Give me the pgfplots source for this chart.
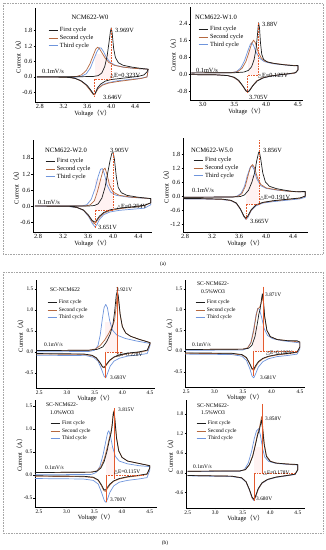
\documentclass[border=0pt]{standalone}
\usepackage{pgfplots}
\pgfplotsset{compat=1.18}
\usepackage{fontspec}
\setmainfont{Liberation Serif}
\newfontfamily\cjk{Noto Sans CJK SC}
\newfontfamily\dvs{DejaVu Sans}
\newcommand{\lp}{{\cjk（}}
\newcommand{\rp}{{\cjk）}}
\newcommand{\dE}{{\dvs\fontsize{5}{5}\selectfont △}E}
\definecolor{cA}{HTML}{1E1E1E}
\definecolor{cB}{HTML}{B5683F}
\definecolor{cC}{HTML}{6F95DC}
\definecolor{mk}{HTML}{E45A2E}
\newcommand{\fa}{\fontsize{6.3}{6.8}\selectfont}
\newcommand{\fta}{\fontsize{6.6}{7}\selectfont}
\newcommand{\fb}{\fontsize{5.4}{6}\selectfont}
\newcommand{\ftb}{\fontsize{5.6}{6.2}\selectfont}
\tikzset{dEline/.style={mk, dash pattern=on 0.8pt off 0.8pt, line width=0.55pt},
         dElineB/.style={mk, line width=0.45pt},
         pinkA/.style={fill=red!25, opacity=0.2, draw=none}}
\pgfplotsset{
  cv/.style={
    scale only axis,
    axis x line*=bottom, axis y line*=left,
    axis line style={-, line width=0.5pt},
    tick align=outside, major tick length=1.5pt,
    tick style={line width=0.4pt, black},
    ticklabel style={inner sep=1pt},
    /pgf/number format/assume math mode=true,
    xticklabel style={/pgf/number format/.cd,fixed,fixed zerofill,precision=1},
    yticklabel style={/pgf/number format/.cd,fixed,fixed zerofill,precision=1},
    xlabel={Voltage\lp V\rp}, ylabel={Current\lp A\rp},
    label style={font=\fa, inner sep=1pt},
    xlabel style={yshift=1pt},
    ylabel style={yshift=-1pt},
    legend cell align=left, reverse legend,
    legend style={draw=none, fill=none, inner sep=0pt, row sep=-2pt, anchor=north west},
    legend image code/.code={\draw[##1, line width=0.8pt] (0pt,0pt) -- (9pt,0pt);},
    every axis plot/.append style={line width=0.7pt, line join=round},
  },
  cva/.style={cv, ticklabel style={font=\fa}, legend style={font=\fa}},
  cvb/.style={cv, ticklabel style={font=\fb}, legend style={font=\fb}},
}
\begin{document}
\begin{tikzpicture}[x=1pt,y=1pt]
\useasboundingbox (0,0) rectangle (326,550);
% panel frames
\draw[gray!70, densely dotted, line width=0.6pt] (3,547) rectangle (323,296);
\draw[gray!70, densely dotted, line width=0.6pt] (3,278) rectangle (323,17);
\node[font=\fb] at (163,286) {(a)};
\node[font=\fb] at (165,7) {(b)};

% ---------- A1 ----------
\begin{axis}[cva, at={(35pt,448pt)}, anchor=south west, width=115pt, height=94pt,
  xmin=2.72, xmax=4.65, ymin=-0.97, ymax=2.67,
  xtick={2.8,3.2,3.6,4.0,4.4}, ytick={-0.6,0,0.6,1.2,1.8},
  legend style={at={(0.113,0.819)}}]
\fill[pinkA] (axis cs:3.72,-0.08) rectangle (axis cs:4.0,0.9);
\addplot[cC] coordinates {(2.75,0.0)(3.4,0.0)(3.5,0.03)(3.58,0.12)(3.65,0.35)(3.71,0.7)(3.76,0.98)(3.8,1.13)(3.83,1.12)(3.87,0.98)(3.92,0.75)(3.98,0.57)(4.06,0.46)(4.2,0.38)(4.4,0.33)(4.62,0.3)
 (4.6,0.0)(4.5,-0.05)(4.3,-0.1)(4.1,-0.15)(3.95,-0.22)(3.85,-0.3)(3.78,-0.44)(3.74,-0.6)(3.72,-0.68)(3.69,-0.64)(3.64,-0.48)(3.57,-0.28)(3.48,-0.13)(3.38,-0.04)(3.25,0.0)(2.75,0.0)};
\addlegendentry{Third cycle}
\addplot[cB] coordinates {(2.75,0.0)(3.3,0.0)(3.42,0.02)(3.5,0.08)(3.58,0.25)(3.64,0.5)(3.7,0.85)(3.74,1.08)(3.77,1.15)(3.8,1.1)(3.84,0.95)(3.9,0.72)(3.96,0.56)(4.05,0.45)(4.2,0.38)(4.4,0.33)(4.62,0.3)
 (4.6,0.0)(4.5,-0.06)(4.3,-0.12)(4.1,-0.18)(3.95,-0.24)(3.85,-0.32)(3.78,-0.45)(3.74,-0.6)(3.72,-0.7)(3.69,-0.66)(3.64,-0.5)(3.57,-0.3)(3.48,-0.14)(3.38,-0.05)(3.25,-0.01)(2.75,0.0)};
\addlegendentry{Second cycle}
\addplot[cA] coordinates {(2.75,0.01)(3.5,0.01)(3.7,0.02)(3.78,0.05)(3.84,0.15)(3.89,0.4)(3.93,0.8)(3.96,1.3)(3.985,1.75)(4.0,1.9)(4.015,1.7)(4.04,1.1)(4.07,0.75)(4.12,0.55)(4.2,0.45)(4.35,0.38)(4.5,0.33)(4.62,0.3)
 (4.6,0.2)(4.55,0.08)(4.45,0.02)(4.3,-0.02)(4.15,-0.06)(4.0,-0.1)(3.9,-0.16)(3.82,-0.28)(3.77,-0.42)(3.74,-0.58)(3.72,-0.68)(3.7,-0.66)(3.66,-0.52)(3.6,-0.34)(3.5,-0.16)(3.4,-0.06)(3.3,-0.02)(3.0,0.0)(2.75,0.0)};
\addlegendentry{First cycle}
\draw[dEline] (axis cs:4.0,1.9) -- (axis cs:4.0,-0.08) -- (axis cs:3.72,-0.08) -- (axis cs:3.72,-0.75);
\end{axis}

% ---------- A2 ----------
\begin{axis}[cva, at={(190pt,450pt)}, anchor=south west, width=113pt, height=93pt,
  xmin=2.8, xmax=4.58, ymin=-1.23, ymax=3.2,
  xtick={3.0,3.5,4.0,4.5}, ytick={-0.8,0,0.8,1.6,2.4},
  legend style={at={(0.071,0.817)}}]
\fill[pinkA] (axis cs:3.71,-0.05) rectangle (axis cs:3.88,1.2);
\addplot[cC] coordinates {(2.82,0.06)(3.45,0.07)(3.53,0.12)(3.6,0.3)(3.66,0.65)(3.71,1.1)(3.75,1.42)(3.77,1.5)(3.8,1.38)(3.84,1.05)(3.9,0.75)(3.97,0.6)(4.1,0.5)(4.3,0.44)(4.5,0.4)
 (4.5,0.2)(4.45,0.04)(4.3,-0.01)(4.1,-0.08)(3.95,-0.18)(3.85,-0.33)(3.78,-0.58)(3.73,-0.78)(3.71,-0.83)(3.68,-0.78)(3.63,-0.55)(3.56,-0.3)(3.48,-0.14)(3.38,-0.06)(3.2,-0.03)(2.82,-0.02)};
\addlegendentry{Third cycle}
\addplot[cB] coordinates {(2.82,0.06)(3.45,0.07)(3.55,0.12)(3.62,0.28)(3.68,0.6)(3.73,1.05)(3.77,1.45)(3.8,1.62)(3.83,1.5)(3.87,1.1)(3.92,0.78)(3.98,0.62)(4.1,0.52)(4.3,0.45)(4.5,0.4)
 (4.5,0.2)(4.45,0.05)(4.3,0.0)(4.1,-0.07)(3.95,-0.17)(3.85,-0.32)(3.78,-0.58)(3.73,-0.8)(3.71,-0.86)(3.68,-0.8)(3.63,-0.56)(3.56,-0.3)(3.48,-0.14)(3.38,-0.06)(3.2,-0.03)(2.82,-0.02)};
\addlegendentry{Second cycle}
\addplot[cA] coordinates {(2.82,0.06)(3.5,0.07)(3.65,0.1)(3.72,0.18)(3.77,0.35)(3.81,0.7)(3.84,1.2)(3.86,1.8)(3.88,2.45)(3.895,2.2)(3.91,1.5)(3.93,0.95)(3.96,0.7)(4.02,0.58)(4.15,0.5)(4.3,0.44)(4.45,0.4)(4.5,0.42)
 (4.5,0.2)(4.47,0.08)(4.35,0.02)(4.2,-0.03)(4.05,-0.1)(3.95,-0.18)(3.86,-0.32)(3.79,-0.55)(3.74,-0.78)(3.71,-0.85)(3.68,-0.78)(3.63,-0.55)(3.57,-0.3)(3.5,-0.15)(3.4,-0.07)(3.2,-0.03)(2.82,-0.02)};
\addlegendentry{First cycle}
\draw[dEline] (axis cs:3.88,2.45) -- (axis cs:3.88,-0.05) -- (axis cs:3.71,-0.05) -- (axis cs:3.71,-0.9);
\end{axis}

% ---------- A3 ----------
\begin{axis}[cva, at={(33pt,318pt)}, anchor=south west, width=119pt, height=92pt,
  xmin=2.72, xmax=4.62, ymin=-0.97, ymax=2.47,
  xtick={2.8,3.2,3.6,4.0,4.4}, ytick={-0.6,0,0.6,1.2,1.8},
  legend style={at={(0.10,0.826)}}]
\fill[pinkA] (axis cs:3.71,-0.15) rectangle (axis cs:4.0,1.0);
\addplot[cC] coordinates {(2.75,0.0)(3.5,0.0)(3.58,0.05)(3.65,0.25)(3.71,0.65)(3.76,1.1)(3.8,1.38)(3.83,1.4)(3.86,1.2)(3.9,0.8)(3.96,0.52)(4.05,0.4)(4.25,0.33)(4.6,0.28)
 (4.6,0.05)(4.5,-0.08)(4.3,-0.12)(4.1,-0.16)(3.95,-0.22)(3.85,-0.32)(3.78,-0.5)(3.74,-0.7)(3.71,-0.78)(3.67,-0.66)(3.61,-0.4)(3.53,-0.17)(3.43,-0.06)(3.3,-0.02)(2.75,0.0)};
\addlegendentry{Third cycle}
\addplot[cB] coordinates {(2.75,0.0)(3.55,0.0)(3.63,0.04)(3.7,0.2)(3.75,0.55)(3.8,1.0)(3.84,1.35)(3.87,1.42)(3.9,1.2)(3.94,0.8)(4.0,0.52)(4.1,0.4)(4.3,0.33)(4.6,0.28)
 (4.6,0.12)(4.5,0.02)(4.3,-0.04)(4.1,-0.1)(3.95,-0.17)(3.85,-0.27)(3.78,-0.42)(3.73,-0.6)(3.7,-0.66)(3.66,-0.56)(3.6,-0.34)(3.52,-0.15)(3.42,-0.05)(3.3,-0.01)(2.75,0.0)};
\addlegendentry{Second cycle}
\addplot[cA] coordinates {(2.75,0.0)(3.6,0.0)(3.7,0.02)(3.76,0.08)(3.82,0.3)(3.87,0.7)(3.91,1.2)(3.95,1.7)(3.98,1.98)(4.0,2.0)(4.02,1.75)(4.05,1.1)(4.08,0.7)(4.13,0.5)(4.22,0.4)(4.4,0.33)(4.6,0.28)
 (4.6,0.12)(4.5,0.03)(4.3,-0.03)(4.1,-0.08)(3.95,-0.14)(3.85,-0.24)(3.78,-0.38)(3.73,-0.55)(3.7,-0.6)(3.66,-0.52)(3.6,-0.32)(3.52,-0.14)(3.42,-0.05)(3.3,-0.01)(2.75,0.0)};
\addlegendentry{First cycle}
\draw[dEline] (axis cs:4.0,2.0) -- (axis cs:4.0,-0.15) -- (axis cs:3.71,-0.15) -- (axis cs:3.71,-0.8);
\end{axis}

% ---------- A4 ----------
\begin{axis}[cva, at={(183pt,318pt)}, anchor=south west, width=125pt, height=94pt,
  xmin=2.77, xmax=4.62, ymin=-1.54, ymax=2.49,
  xtick={2.8,3.2,3.6,4.0,4.4}, ytick={-1.2,-0.6,0,0.6,1.2,1.8},
  legend style={at={(0.08,0.819)}}]
\fill[pinkA] (axis cs:3.7,-0.35) rectangle (axis cs:3.9,0.9);
\addplot[cC] coordinates {(2.78,-0.05)(3.5,-0.04)(3.57,0.0)(3.63,0.12)(3.68,0.42)(3.72,0.85)(3.76,1.2)(3.79,1.3)(3.82,1.15)(3.86,0.75)(3.92,0.45)(4.0,0.33)(4.15,0.26)(4.35,0.2)(4.58,0.18)
 (4.58,-0.05)(4.5,-0.12)(4.3,-0.18)(4.1,-0.24)(3.95,-0.3)(3.85,-0.42)(3.78,-0.62)(3.73,-0.92)(3.7,-1.0)(3.67,-0.88)(3.62,-0.57)(3.56,-0.32)(3.48,-0.2)(3.35,-0.15)(3.1,-0.13)(2.78,-0.12)};
\addlegendentry{Third cycle}
\addplot[cB] coordinates {(2.78,-0.05)(3.5,-0.04)(3.58,-0.01)(3.64,0.1)(3.69,0.4)(3.73,0.85)(3.77,1.25)(3.8,1.35)(3.83,1.2)(3.87,0.8)(3.92,0.5)(4.0,0.35)(4.15,0.27)(4.35,0.2)(4.58,0.18)
 (4.58,0.0)(4.5,-0.09)(4.3,-0.15)(4.1,-0.21)(3.95,-0.28)(3.85,-0.39)(3.78,-0.6)(3.73,-0.88)(3.7,-0.97)(3.67,-0.86)(3.62,-0.56)(3.56,-0.31)(3.48,-0.19)(3.35,-0.14)(3.1,-0.12)(2.78,-0.11)};
\addlegendentry{Second cycle}
\addplot[cA] coordinates {(2.78,-0.05)(3.5,-0.04)(3.62,-0.02)(3.68,0.05)(3.74,0.25)(3.79,0.6)(3.83,1.0)(3.86,1.5)(3.89,1.88)(3.9,1.9)(3.92,1.6)(3.95,1.0)(3.99,0.6)(4.05,0.42)(4.15,0.32)(4.3,0.24)(4.45,0.18)(4.58,0.2)
 (4.58,0.0)(4.5,-0.08)(4.3,-0.14)(4.1,-0.2)(3.95,-0.27)(3.85,-0.38)(3.78,-0.58)(3.73,-0.85)(3.7,-0.95)(3.67,-0.85)(3.62,-0.55)(3.56,-0.3)(3.48,-0.18)(3.35,-0.13)(3.1,-0.11)(2.78,-0.1)};
\addlegendentry{First cycle}
\draw[dEline] (axis cs:3.9,2.4) -- (axis cs:3.9,-0.35) -- (axis cs:3.7,-0.35) -- (axis cs:3.7,-1.0);
\end{axis}

% ---------- B1 ----------
\begin{axis}[cvb, at={(36pt,162pt)}, anchor=south west, width=119pt, height=108pt,
  xmin=2.44, xmax=4.59, ymin=-0.86, ymax=1.71,
  xtick={2.5,3.0,3.5,4.0,4.5}, ytick={-0.5,0,0.5,1.0,1.5},
  legend style={at={(0.092,0.833)}}]
\fill[pinkA] (axis cs:3.69,0.0) rectangle (axis cs:3.91,0.7);
\addplot[cC] coordinates {(2.45,0.0)(3.4,0.01)(3.5,0.04)(3.56,0.15)(3.6,0.4)(3.64,0.8)(3.67,1.05)(3.7,1.13)(3.73,1.05)(3.77,0.75)(3.82,0.52)(3.9,0.4)(4.05,0.32)(4.25,0.26)(4.5,0.2)
 (4.5,0.15)(4.45,-0.04)(4.3,-0.07)(4.1,-0.1)(3.95,-0.15)(3.85,-0.22)(3.78,-0.34)(3.73,-0.52)(3.7,-0.62)(3.67,-0.58)(3.62,-0.4)(3.56,-0.22)(3.48,-0.13)(3.35,-0.09)(2.45,-0.08)};
\addlegendentry{Third cycle}
\addplot[cB] coordinates {(2.45,0.03)(3.4,0.04)(3.52,0.07)(3.6,0.15)(3.68,0.28)(3.75,0.43)(3.81,0.58)(3.86,0.75)(3.89,1.1)(3.91,1.42)(3.93,1.25)(3.96,0.88)(4.0,0.6)(4.06,0.45)(4.15,0.37)(4.3,0.3)(4.5,0.22)
 (4.5,0.18)(4.45,0.03)(4.3,-0.01)(4.1,-0.04)(3.95,-0.08)(3.85,-0.13)(3.77,-0.21)(3.71,-0.32)(3.67,-0.38)(3.64,-0.36)(3.6,-0.27)(3.53,-0.15)(3.45,-0.09)(3.3,-0.06)(2.45,-0.05)};
\addlegendentry{Second cycle}
\addplot[cA] coordinates {(2.45,0.03)(3.4,0.04)(3.55,0.06)(3.65,0.12)(3.72,0.25)(3.78,0.42)(3.83,0.65)(3.86,0.95)(3.89,1.35)(3.91,1.45)(3.93,1.3)(3.96,0.9)(4.0,0.6)(4.06,0.45)(4.15,0.37)(4.3,0.3)(4.5,0.22)
 (4.5,0.2)(4.45,0.04)(4.3,0.0)(4.1,-0.03)(3.95,-0.07)(3.85,-0.12)(3.77,-0.2)(3.71,-0.3)(3.67,-0.37)(3.64,-0.35)(3.6,-0.26)(3.53,-0.14)(3.45,-0.08)(3.3,-0.05)(2.45,-0.04)};
\addlegendentry{First cycle}
\draw[dElineB] (axis cs:3.91,1.55) -- (axis cs:3.91,-0.05);
\draw[dElineB] (axis cs:3.69,-0.62) -- (axis cs:3.69,0.0);
\draw[dEline] (axis cs:3.69,0.0) -- (axis cs:4.0,0.0);
\end{axis}

% ---------- B2 ----------
\begin{axis}[cvb, at={(185pt,163pt)}, anchor=south west, width=120pt, height=107pt,
  xmin=2.48, xmax=4.59, ymin=-0.86, ymax=1.71,
  xtick={2.5,3.0,3.5,4.0,4.5}, ytick={-0.5,0,0.5,1.0,1.5},
  legend style={at={(0.083,0.832)}}]
\fill[pinkA] (axis cs:3.68,0.0) rectangle (axis cs:3.85,0.6);
\addplot[cC] coordinates {(2.48,0.02)(3.5,0.03)(3.58,0.07)(3.64,0.22)(3.69,0.55)(3.73,0.88)(3.76,1.03)(3.79,1.0)(3.83,0.8)(3.87,0.55)(3.93,0.38)(4.02,0.3)(4.2,0.25)(4.5,0.2)
 (4.5,0.05)(4.45,-0.07)(4.3,-0.1)(4.1,-0.13)(3.95,-0.18)(3.85,-0.25)(3.77,-0.38)(3.72,-0.55)(3.69,-0.64)(3.66,-0.6)(3.62,-0.42)(3.56,-0.22)(3.48,-0.12)(3.3,-0.08)(2.48,-0.07)};
\addlegendentry{Third cycle}
\addplot[cB] coordinates {(2.48,0.04)(3.5,0.05)(3.58,0.08)(3.64,0.2)(3.69,0.5)(3.73,0.85)(3.76,1.02)(3.79,1.05)(3.82,1.15)(3.84,1.32)(3.86,1.15)(3.88,0.82)(3.92,0.5)(3.98,0.35)(4.1,0.28)(4.3,0.25)(4.5,0.22)
 (4.5,0.1)(4.45,-0.03)(4.3,-0.06)(4.1,-0.09)(3.95,-0.13)(3.85,-0.18)(3.77,-0.27)(3.72,-0.38)(3.69,-0.46)(3.66,-0.44)(3.62,-0.31)(3.56,-0.16)(3.48,-0.09)(3.3,-0.06)(2.48,-0.05)};
\addlegendentry{Second cycle}
\addplot[cA] coordinates {(2.48,0.04)(3.5,0.05)(3.6,0.07)(3.66,0.15)(3.71,0.35)(3.75,0.65)(3.78,0.9)(3.8,1.0)(3.82,1.2)(3.84,1.38)(3.86,1.2)(3.88,0.85)(3.92,0.5)(3.98,0.35)(4.1,0.28)(4.3,0.25)(4.45,0.25)(4.5,0.22)
 (4.5,0.1)(4.45,-0.02)(4.3,-0.05)(4.1,-0.08)(3.95,-0.12)(3.85,-0.17)(3.77,-0.25)(3.72,-0.35)(3.69,-0.43)(3.66,-0.42)(3.62,-0.3)(3.56,-0.15)(3.48,-0.08)(3.3,-0.05)(2.48,-0.04)};
\addlegendentry{First cycle}
\draw[dElineB] (axis cs:3.85,1.55) -- (axis cs:3.85,0.0);
\draw[dElineB] (axis cs:3.68,-0.6) -- (axis cs:3.68,0.0);
\draw[dEline] (axis cs:3.68,0.0) -- (axis cs:4.45,0.0);
\end{axis}

% ---------- B3 ----------
\begin{axis}[cvb, at={(35pt,43pt)}, anchor=south west, width=122pt, height=107pt,
  xmin=2.43, xmax=4.63, ymin=-0.7, ymax=1.63,
  xtick={2.5,3.0,3.5,4.0,4.5}, ytick={-0.5,0,0.5,1.0,1.5},
  legend style={at={(0.123,0.822)}}]
\fill[pinkA] (axis cs:3.71,0.0) rectangle (axis cs:3.85,0.6);
\addplot[cC] coordinates {(2.43,0.0)(3.45,0.01)(3.53,0.05)(3.6,0.18)(3.66,0.45)(3.71,0.75)(3.74,0.92)(3.76,0.96)(3.79,0.85)(3.83,0.6)(3.88,0.4)(3.95,0.3)(4.1,0.24)(4.3,0.2)(4.5,0.18)
 (4.5,0.1)(4.45,-0.06)(4.3,-0.09)(4.1,-0.12)(3.95,-0.16)(3.85,-0.24)(3.78,-0.38)(3.74,-0.52)(3.71,-0.6)(3.68,-0.56)(3.63,-0.38)(3.57,-0.2)(3.48,-0.12)(3.3,-0.09)(2.43,-0.08)};
\addlegendentry{Third cycle}
\addplot[cB] coordinates {(2.43,0.05)(3.45,0.06)(3.55,0.09)(3.62,0.18)(3.68,0.35)(3.73,0.58)(3.77,0.8)(3.8,0.93)(3.82,1.1)(3.84,1.35)(3.855,1.4)(3.87,1.25)(3.9,0.82)(3.94,0.53)(4.0,0.38)(4.1,0.3)(4.3,0.25)(4.5,0.2)
 (4.5,0.15)(4.45,0.01)(4.3,-0.02)(4.1,-0.05)(3.95,-0.09)(3.85,-0.14)(3.78,-0.22)(3.73,-0.31)(3.7,-0.36)(3.67,-0.34)(3.63,-0.24)(3.57,-0.12)(3.48,-0.06)(3.3,-0.04)(2.43,-0.03)};
\addlegendentry{Second cycle}
\addplot[cA] coordinates {(2.43,0.05)(3.45,0.06)(3.55,0.08)(3.62,0.15)(3.68,0.3)(3.73,0.52)(3.77,0.75)(3.8,0.9)(3.82,1.05)(3.84,1.3)(3.85,1.37)(3.87,1.2)(3.9,0.8)(3.94,0.52)(4.0,0.38)(4.1,0.3)(4.3,0.25)(4.5,0.2)
 (4.5,0.15)(4.45,0.02)(4.3,-0.01)(4.1,-0.04)(3.95,-0.08)(3.85,-0.13)(3.78,-0.2)(3.73,-0.28)(3.7,-0.33)(3.67,-0.32)(3.63,-0.22)(3.57,-0.11)(3.48,-0.05)(3.3,-0.03)(2.43,-0.02)};
\addlegendentry{First cycle}
\draw[dElineB] (axis cs:3.85,1.45) -- (axis cs:3.85,-0.1);
\draw[dElineB] (axis cs:3.71,-0.6) -- (axis cs:3.71,0.0);
\draw[dEline] (axis cs:3.71,0.0) -- (axis cs:4.4,0.0);
\end{axis}

% ---------- B4 ----------
\begin{axis}[cvb, at={(186pt,42pt)}, anchor=south west, width=119pt, height=108pt,
  xmin=2.47, xmax=4.63, ymin=-1.07, ymax=2.22,
  xtick={2.5,3.0,3.5,4.0,4.5}, ytick={-0.6,0,0.6,1.2,1.8},
  legend style={at={(0.084,0.824)}}]
\fill[pinkA] (axis cs:3.7,0.0) rectangle (axis cs:3.845,0.8);
\addplot[cC] coordinates {(2.5,0.04)(3.45,0.05)(3.53,0.1)(3.6,0.3)(3.66,0.65)(3.71,1.05)(3.75,1.28)(3.79,1.35)(3.82,1.15)(3.86,0.75)(3.9,0.48)(3.97,0.35)(4.1,0.29)(4.3,0.26)(4.5,0.24)
 (4.5,0.1)(4.45,-0.05)(4.3,-0.09)(4.1,-0.14)(3.95,-0.21)(3.85,-0.32)(3.78,-0.5)(3.73,-0.75)(3.7,-0.84)(3.67,-0.77)(3.62,-0.52)(3.56,-0.28)(3.48,-0.16)(3.3,-0.11)(2.5,-0.09)};
\addlegendentry{Third cycle}
\addplot[cB] coordinates {(2.5,0.05)(3.45,0.06)(3.55,0.1)(3.62,0.25)(3.68,0.52)(3.73,0.88)(3.77,1.2)(3.8,1.35)(3.82,1.52)(3.845,1.72)(3.86,1.45)(3.89,0.9)(3.93,0.52)(4.0,0.36)(4.1,0.3)(4.3,0.27)(4.5,0.25)
 (4.5,0.1)(4.45,-0.04)(4.3,-0.08)(4.1,-0.13)(3.95,-0.2)(3.85,-0.31)(3.78,-0.5)(3.73,-0.74)(3.7,-0.82)(3.67,-0.76)(3.62,-0.51)(3.56,-0.27)(3.48,-0.15)(3.3,-0.1)(2.5,-0.08)};
\addlegendentry{Second cycle}
\addplot[cA] coordinates {(2.5,0.05)(3.45,0.06)(3.55,0.1)(3.62,0.25)(3.68,0.5)(3.73,0.85)(3.77,1.15)(3.8,1.3)(3.82,1.45)(3.84,1.6)(3.86,1.35)(3.89,0.85)(3.93,0.5)(4.0,0.35)(4.1,0.3)(4.3,0.27)(4.45,0.26)(4.5,0.25)
 (4.5,0.1)(4.45,-0.04)(4.3,-0.08)(4.1,-0.13)(3.95,-0.2)(3.85,-0.3)(3.78,-0.48)(3.73,-0.72)(3.7,-0.8)(3.67,-0.74)(3.62,-0.5)(3.56,-0.27)(3.48,-0.15)(3.3,-0.1)(2.5,-0.08)};
\addlegendentry{First cycle}
\draw[dElineB] (axis cs:3.845,2.1) -- (axis cs:3.845,0.0);
\draw[dElineB] (axis cs:3.7,-0.85) -- (axis cs:3.7,0.0);
\draw[dEline] (axis cs:3.7,0.0) -- (axis cs:4.45,0.0);
\end{axis}

% ---------- texts ----------
\begin{scope}[every node/.style={font=\fa, inner sep=0pt}]
% A1
\node[font=\fta] at (90,533) {NCM622-W0};
\node[anchor=west] at (115,520) {3.969V};
\node[anchor=west] at (42,479) {0.1mV/s};
\node[anchor=west] at (110,474) {\dE=0.323V};
\node[anchor=west] at (103,453) {3.646V};
% A2
\node[font=\fta] at (216,533) {NCM622-W1.0};
\node[anchor=west] at (262,526) {3.88V};
\node[anchor=west] at (196,480) {0.1mV/s};
\node[anchor=west] at (258,474) {\dE=0.125V};
\node[anchor=west] at (249,453) {3.705V};
% A3
\node[font=\fta] at (66,400) {NCM622-W2.0};
\node[anchor=west] at (110,400) {3.905V};
\node[anchor=west] at (38,348) {0.1mV/s};
\node[anchor=west] at (117,343) {\dE=0.254V};
\node[anchor=west] at (98,323) {3.651V};
% A4
\node[font=\fta] at (212,400) {NCM622-W5.0};
\node[anchor=west] at (263,400) {3.856V};
\node[anchor=west] at (192,360) {0.1mV/s};
\node[anchor=west] at (260,352) {\dE=0.191V};
\node[anchor=west] at (250,329) {3.665V};
\end{scope}
\begin{scope}[every node/.style={font=\fb, inner sep=0pt}]
% B1
\node[font=\ftb] at (65,260) {SC-NCM622};
\node[anchor=west] at (116,260) {3.921V};
\node[anchor=west] at (44,205) {0.1mV/s};
\node[anchor=west] at (116,195) {\dE=0.228V};
\node[anchor=west] at (110,172) {3.693V};
% B2
\node[font=\ftb] at (213,266) {SC-NCM622-};
\node[font=\ftb] at (213,258) {0.5\%WO3};
\node[anchor=west] at (265,255) {3.871V};
\node[anchor=west] at (192,205) {0.1mV/s};
\node[anchor=west] at (266,197) {\dE=0.190V};
\node[anchor=west] at (260,172) {3.681V};
% B3
\node[font=\ftb] at (62,145) {SC-NCM622-};
\node[font=\ftb] at (62,137) {1.0\%WO3};
\node[anchor=west] at (118,140) {3.815V};
\node[anchor=west] at (45,82) {0.1mV/s};
\node[anchor=west] at (114,78) {\dE=0.115V};
\node[anchor=west] at (110,50) {3.700V};
% B4
\node[font=\ftb] at (213,144) {SC-NCM622-};
\node[font=\ftb] at (213,137) {1.5\%WO3};
\node[anchor=west] at (265,131) {3.858V};
\node[anchor=west] at (193,83) {0.1mV/s};
\node[anchor=west] at (263,77) {\dE=0.178V};
\node[anchor=west] at (256,51) {3.680V};
\end{scope}
\end{tikzpicture}
\end{document}
